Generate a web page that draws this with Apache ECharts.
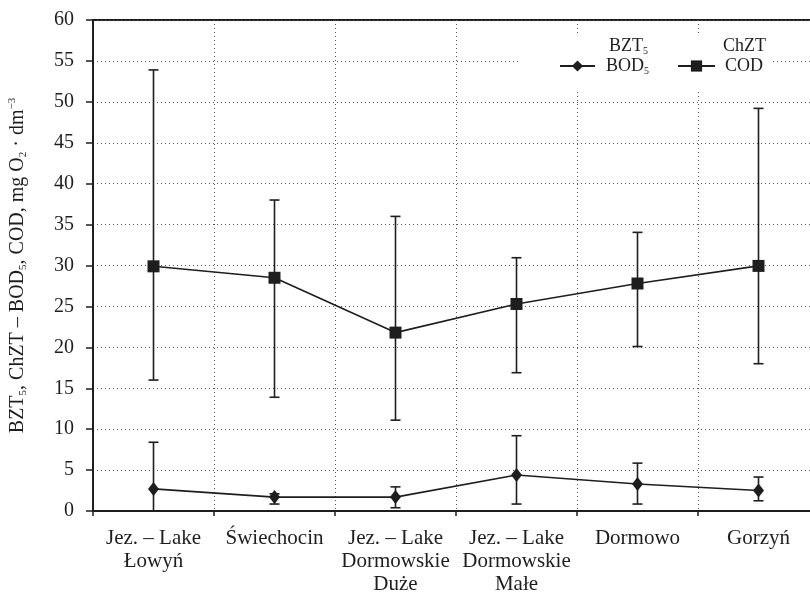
<!DOCTYPE html>
<html>
<head>
<meta charset="utf-8">
<script src="https://cdn.jsdelivr.net/npm/echarts@6/dist/echarts.min.js"></script>
<style>html,body{margin:0;padding:0;background:#fff}#c{width:810px;height:593px}</style>
</head>
<body>
<div id="c"></div>
<script>
const categories = ['Jez. – Lake\nŁowyń', 'Świechocin', 'Jez. – Lake\nDormowskie\nDuże', 'Jez. – Lake\nDormowskie\nMałe', 'Dormowo', 'Gorzyń'];
const bodMean = [2.7, 1.7, 1.7, 4.4, 3.3, 2.5];
const bodLow  = [0.0, 0.85, 0.4, 0.85, 0.85, 1.25];
const bodHigh = [8.4, 2.1, 2.95, 9.2, 5.85, 4.15];
const codMean = [29.9, 28.5, 21.8, 25.3, 27.8, 29.95];
const codLow  = [16.0, 13.9, 11.1, 16.9, 20.1, 18.0];
const codHigh = [53.9, 38.0, 36.0, 30.95, 34.05, 49.2];
const yTicks = [0, 60, 5];

const ink = '#1e1e1e';
const serif = 'Liberation Serif';

function errData(lo, hi) { return lo.map((v, i) => [i, v, hi[i]]); }
function errRender(params, api) {
  const x = api.value(0);
  const p1 = api.coord([x, api.value(1)]);
  const p2 = api.coord([x, api.value(2)]);
  const w = 5;
  const st = { stroke: ink, lineWidth: 1.6 };
  return {
    type: 'group',
    children: [
      { type: 'line', shape: { x1: p1[0], y1: p1[1], x2: p2[0], y2: p2[1] }, style: st },
      { type: 'line', shape: { x1: p1[0] - w, y1: p1[1], x2: p1[0] + w, y2: p1[1] }, style: st },
      { type: 'line', shape: { x1: p2[0] - w, y1: p2[1], x2: p2[0] + w, y2: p2[1] }, style: st }
    ]
  };
}

const richAxis = {
  a: { fontFamily: serif, fontSize: 20, color: ink, lineHeight: 22 },
  s: { fontFamily: serif, fontSize: 11, color: ink, lineHeight: 12, verticalAlign: 'bottom' },
  u: { fontFamily: serif, fontSize: 11, color: ink, lineHeight: 12, verticalAlign: 'top' }
};
const richLegend = {
  a: { fontFamily: serif, fontSize: 18, color: ink, lineHeight: 20 },
  s: { fontFamily: serif, fontSize: 10, color: ink, lineHeight: 10, verticalAlign: 'bottom' },
  g1: { width: 9, lineHeight: 20 },
  g2: { width: 6, lineHeight: 20 },
  g3: { width: 3, lineHeight: 20 },
  g4: { width: 5, lineHeight: 20 }
};

function legendOpt(name, left, iconW) {
  return {
    data: [name],
    left: left, top: 37,
    padding: 0,
    itemWidth: iconW, itemHeight: 14,
    formatter: function (n) {
      if (n === 'BOD5') return '{g1|}{a|BZT}{s|5}\n{g2|}{a|BOD}{s|5}\n{a| }';
      return '{g3|}{a|ChZT}\n{g4|}{a|COD}\n{a| }';
    },
    textStyle: { rich: richLegend }
  };
}

const chart = echarts.init(document.getElementById('c'), null, { renderer: 'canvas' });
chart.setOption({
  animation: false,
  backgroundColor: '#fff',
  grid: { left: 93, top: 20, width: 726, bottom: 82, outerBoundsMode: 'none', containLabel: false, show: true, borderColor: ink, borderWidth: 2, backgroundColor: 'transparent' },
  graphic: [{
    type: 'rect', z: 1, silent: true,
    shape: { x: 520, y: 36, width: 252, height: 54 },
    style: { fill: '#fff' }
  }],
  legend: [legendOpt('BOD5', 559, 35), legendOpt('COD', 677, 37)],
  xAxis: {
    type: 'category',
    data: categories,
    boundaryGap: true,
    axisLine: { lineStyle: { color: ink, width: 2 } },
    axisTick: { show: true, length: 5, lineStyle: { color: ink, width: 1.5 } },
    axisLabel: { fontFamily: serif, fontSize: 21, color: ink, lineHeight: 23, margin: 16, interval: 0 },
    splitLine: { show: true, lineStyle: { color: '#555', width: 1, type: [1, 3] } }
  },
  yAxis: {
    type: 'value',
    min: yTicks[0], max: yTicks[1], interval: yTicks[2],
    axisLine: { show: true, lineStyle: { color: ink, width: 2 } },
    axisTick: { show: true, length: 7, lineStyle: { color: ink, width: 1.5 } },
    axisLabel: { fontFamily: serif, fontSize: 20, color: ink, margin: 19 },
    splitLine: { show: true, lineStyle: { color: '#555', width: 1, type: [1, 3] } },
    name: '{a|BZT}{s|5}{a|, ChZT – BOD}{s|5}{a|, COD, mg O}{s|2}{a| · dm}{u|−3}',
    nameLocation: 'middle',
    nameGap: 64,
    nameRotate: 90,
    nameTextStyle: { rich: richAxis }
  },
  series: [
    {
      name: 'BOD5', type: 'line', data: bodMean,
      symbol: 'diamond', symbolSize: [11, 14],
      lineStyle: { color: ink, width: 1.6 },
      itemStyle: { color: ink },
      z: 5
    },
    {
      name: 'COD', type: 'line', data: codMean,
      symbol: 'rect', symbolSize: 12,
      lineStyle: { color: ink, width: 1.6 },
      itemStyle: { color: ink },
      z: 5
    },
    { name: 'bodErr', type: 'custom', renderItem: errRender, data: errData(bodLow, bodHigh), z: 4, silent: true },
    { name: 'codErr', type: 'custom', renderItem: errRender, data: errData(codLow, codHigh), z: 4, silent: true }
  ]
});
</script>
</body>
</html>
